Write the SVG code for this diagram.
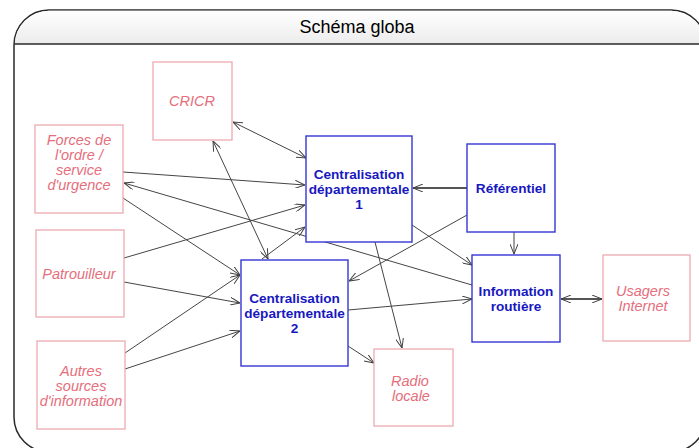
<svg xmlns="http://www.w3.org/2000/svg" width="699" height="448" viewBox="0 0 699 448">
<defs>
<linearGradient id="tg" x1="0" y1="0" x2="0" y2="1">
<stop offset="0" stop-color="#ffffff"/>
<stop offset="1" stop-color="#ececec"/>
</linearGradient>
<marker id="ah" viewBox="0 0 10 8" refX="10" refY="4" markerWidth="10" markerHeight="8" markerUnits="userSpaceOnUse" orient="auto-start-reverse">
<path d="M0,0 L10,4 L0,8" fill="none" stroke="#404040" stroke-width="1"/>
</marker>
</defs>
<style>
.pk rect{fill:#ffffff;stroke:#eba3aa;stroke-width:1.2}
.pk text{font-family:"Liberation Sans",Arial,sans-serif;font-style:italic;font-size:14.5px;fill:#e56e7b;text-anchor:middle}
.bl rect{fill:#ffffff;stroke:#3535d5;stroke-width:1.4}
.bl text{font-family:"Liberation Sans",Arial,sans-serif;font-weight:bold;font-size:13.6px;fill:#1818c0;text-anchor:middle}
.c path{fill:none;stroke:#454545;stroke-width:1;marker-end:url(#ah)}
.c path.d{marker-start:url(#ah)}
.c path.t{stroke:#555555;stroke-width:1.8}
</style>
<rect width="699" height="448" fill="#ffffff"/>
<g id="frame">
<rect x="14" y="10" width="692" height="442" rx="35" ry="35" fill="#ffffff" stroke="#2a2a2a" stroke-width="1.5"/>
<path d="M14.7,44 A35,35 0 0 1 49,10.7 H671 A35,35 0 0 1 705.3,44 Z" fill="url(#tg)"/>
<line x1="14" y1="44" x2="706" y2="44" stroke="#2a2a2a" stroke-width="1.5"/>
<text x="357" y="33" font-family="Liberation Sans,Arial,sans-serif" font-size="18" fill="#000000" text-anchor="middle">Schéma globa</text>
</g>
<g id="connectors" class="c">
<path class="d" d="M233,122 L306,158"/>
<path class="d" d="M213,141 L268,259"/>
<path d="M123,172 L305,185"/>
<path d="M472,285 L124,183"/>
<path d="M123,198 L240,275"/>
<path d="M124,258 L305,205"/>
<path d="M124,282 L240,303"/>
<path d="M125,353 L240,275"/>
<path d="M125,369 L240,331"/>
<path d="M262,259 L305,227"/>
<path class="t" d="M467,188 L413,188"/>
<path d="M467,215 L349,281"/>
<path d="M514,232 L514,254"/>
<path d="M412,225 L472,265"/>
<path d="M348,310 L472,299"/>
<path d="M375,242 L402,348"/>
<path d="M348,346 L374,363"/>
<path class="d t" d="M561,299 L602,299"/>
</g>
<g id="cricr" class="pk">
<rect x="153" y="62" width="79" height="78"/>
<text x="192" y="106">CRICR</text>
</g>
<g id="forces" class="pk">
<rect x="35" y="125" width="88" height="88"/>
<text x="79" y="145">Forces de</text>
<text x="79" y="160">l'ordre /</text>
<text x="79" y="175">service</text>
<text x="79" y="190">d'urgence</text>
</g>
<g id="patrouilleur" class="pk">
<rect x="36" y="230" width="88" height="87"/>
<text x="79" y="279">Patrouilleur</text>
</g>
<g id="autres" class="pk">
<rect x="37" y="341" width="88" height="88"/>
<text x="81" y="376">Autres</text>
<text x="81" y="391">sources</text>
<text x="81" y="406">d'information</text>
</g>
<g id="radio" class="pk">
<rect x="374" y="349" width="79" height="77"/>
<text x="410" y="386">Radio</text>
<text x="411" y="401">locale</text>
</g>
<g id="usagers" class="pk">
<rect x="603" y="255" width="87" height="86"/>
<text x="643" y="296">Usagers</text>
<text x="643" y="311">Internet</text>
</g>
<g id="cd1" class="bl">
<rect x="306" y="136" width="106" height="106"/>
<text x="359" y="179">Centralisation</text>
<text x="359" y="194">départementale</text>
<text x="359" y="209">1</text>
</g>
<g id="referentiel" class="bl">
<rect x="467" y="144" width="88" height="88"/>
<text x="511" y="193">Référentiel</text>
</g>
<g id="cd2" class="bl">
<rect x="241" y="260" width="107" height="106"/>
<text x="294.5" y="303">Centralisation</text>
<text x="294.5" y="318">départementale</text>
<text x="294.5" y="333">2</text>
</g>
<g id="info" class="bl">
<rect x="472" y="255" width="88" height="87"/>
<text x="516" y="296">Information</text>
<text x="516" y="311">routière</text>
</g>
</svg>
